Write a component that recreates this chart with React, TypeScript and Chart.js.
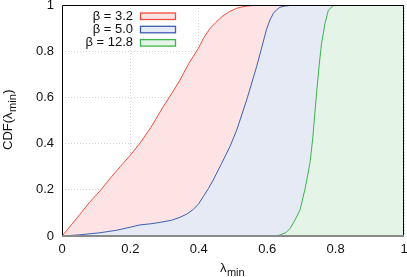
import { useEffect, useRef } from "react";
import { Chart, registerables } from "chart.js";
Chart.register(...registerables);

const seriesLabels = ["β = 3.2", "β = 5.0", "β = 12.8"];

const redX = [0, 0.02, 0.053, 0.08, 0.111, 0.14, 0.17, 0.2, 0.228, 0.26, 0.296, 0.32, 0.345, 0.37, 0.399, 0.415, 0.433, 0.45, 0.467, 0.49, 0.511, 0.53, 0.55, 0.575, 1];
const redY = [0, 0.035, 0.095, 0.145, 0.195, 0.248, 0.3, 0.35, 0.402, 0.47, 0.56, 0.615, 0.675, 0.745, 0.813, 0.86, 0.899, 0.925, 0.949, 0.972, 0.986, 0.993, 0.997, 1, 1];

const blueX = [0, 0.05, 0.111, 0.16, 0.199, 0.228, 0.26, 0.287, 0.32, 0.345, 0.365, 0.384, 0.4, 0.413, 0.428, 0.442, 0.467, 0.491, 0.511, 0.54, 0.569, 0.583, 0.598, 0.608, 0.618, 0.628, 0.637, 0.65, 0.667, 0.68, 1];
const blueY = [0, 0.005, 0.014, 0.025, 0.038, 0.048, 0.053, 0.059, 0.068, 0.081, 0.095, 0.115, 0.14, 0.17, 0.205, 0.242, 0.315, 0.387, 0.459, 0.589, 0.733, 0.81, 0.895, 0.935, 0.964, 0.98, 0.99, 0.995, 0.998, 1, 1];

const greenX = [0, 0.61, 0.625, 0.637, 0.655, 0.667, 0.68, 0.696, 0.711, 0.725, 0.733, 0.745, 0.752, 0.759, 0.769, 0.779, 0.793, 0.81, 1];
const greenY = [0, 0, 0.001, 0.004, 0.015, 0.033, 0.065, 0.113, 0.206, 0.315, 0.42, 0.63, 0.74, 0.834, 0.92, 0.978, 0.997, 1, 1];

const xTicks = [0, 0.2, 0.4, 0.6, 0.8, 1];
const yTicks = [0, 0.2, 0.4, 0.6, 0.8, 1];

const lineColors = ["#ef4f3d", "#3f5fb0", "#3cb44b"];
const fillColors = ["#fde3e3", "#e6eaf5", "#e4f5e8"];

const FONT = '"Liberation Sans", Arial, sans-serif';

function pts(xs: number[], ys: number[]) {
  return xs.map((x, i) => ({ x, y: ys[i] }));
}

const fmt = (v: number) => (v === 0 ? "0" : v === 1 ? "1" : v.toFixed(1));

const decor = {
  id: "decor",
  afterDraw(chart: any) {
    const { ctx, chartArea: a } = chart;
    ctx.save();
    // frame
    ctx.strokeStyle = "#000";
    ctx.lineWidth = 1;
    ctx.beginPath();
    ctx.moveTo(a.left + 0.5, a.bottom);
    ctx.lineTo(a.left + 0.5, a.top + 0.5);
    ctx.lineTo(a.right - 0.5, a.top + 0.5);
    ctx.lineTo(a.right - 0.5, a.bottom);
    ctx.stroke();
    ctx.strokeStyle = "#8a8a8a";
    ctx.lineWidth = 2;
    ctx.beginPath();
    ctx.moveTo(a.left, a.bottom);
    ctx.lineTo(a.right, a.bottom);
    ctx.stroke();

    // legend
    ctx.font = `13px ${FONT}`;
    ctx.fillStyle = "#111";
    ctx.textAlign = "right";
    ctx.textBaseline = "middle";
    seriesLabels.forEach((lab, i) => {
      const cy = 16 + 13.3 * i;
      ctx.fillStyle = "#111";
      ctx.fillText(lab, 133, cy);
      ctx.fillStyle = fillColors[i];
      ctx.fillRect(140.5, cy - 3, 35, 6.5);
      ctx.strokeStyle = lineColors[i];
      ctx.lineWidth = 1.3;
      ctx.strokeRect(140.5, cy - 3, 35, 6.5);
    });

    // x title
    ctx.textAlign = "left";
    ctx.textBaseline = "alphabetic";
    ctx.fillStyle = "#111";
    ctx.font = `13px ${FONT}`;
    const wL = ctx.measureText("λ").width;
    ctx.font = `11px ${FONT}`;
    const wM = ctx.measureText("min").width;
    const x0 = 232 - (wL + wM) / 2;
    ctx.font = `13px ${FONT}`;
    ctx.fillText("λ", x0, 272);
    ctx.font = `11px ${FONT}`;
    ctx.fillText("min", x0 + wL + 0.5, 276);

    // y title
    ctx.translate(12, 150);
    ctx.rotate(-Math.PI / 2);
    ctx.font = `13px ${FONT}`;
    ctx.fillText("CDF(λ", 0, 0);
    const w1 = ctx.measureText("CDF(λ").width;
    ctx.font = `11px ${FONT}`;
    ctx.fillText("min", w1 + 0.5, 3.5);
    const w2 = ctx.measureText("min").width;
    ctx.font = `13px ${FONT}`;
    ctx.fillText(")", w1 + w2 + 1, 0);
    ctx.restore();
  },
};

export default function App() {
  const ref = useRef<HTMLCanvasElement>(null);
  useEffect(() => {
    document.body.style.margin = "0";
    const order = [2, 1, 0];
    const data = [pts(redX, redY), pts(blueX, blueY), pts(greenX, greenY)];
    const chart = new Chart(ref.current!, {
      type: "line",
      data: {
        datasets: data.map((d, i) => ({
          label: seriesLabels[i],
          data: d,
          borderColor: lineColors[i],
          backgroundColor: fillColors[i],
          borderWidth: 1,
          pointRadius: 0,
          tension: 0,
          fill: "origin",
          order: order[i],
        })),
      },
      options: {
        animation: false,
        responsive: false,
        events: [],
        layout: { padding: { top: 5, right: 3, left: 0, bottom: 0 } },
        plugins: { legend: { display: false }, tooltip: { enabled: false } },
        scales: {
          x: {
            type: "linear",
            min: 0,
            max: 1,
            afterBuildTicks: (s: any) => {
              s.ticks = xTicks.map((v) => ({ value: v }));
            },
            afterFit: (s: any) => {
              s.height = 41;
              s.paddingLeft = 0;
              s.paddingRight = 0;
            },
            ticks: {
              callback: (v: any) => fmt(Number(v)),
              font: { family: FONT, size: 13 },
              color: "#111",
              padding: 6,
              maxRotation: 0,
            },
            grid: { color: "#d4d4d4", lineWidth: 1, drawTicks: false },
            border: { display: false, dash: [1, 2] },
          },
          y: {
            type: "linear",
            min: 0,
            max: 1,
            afterBuildTicks: (s: any) => {
              s.ticks = yTicks.map((v) => ({ value: v }));
            },
            afterFit: (s: any) => {
              s.width = 62;
              s.paddingTop = 0;
              s.paddingBottom = 0;
            },
            ticks: {
              callback: (v: any) => fmt(Number(v)),
              font: { family: FONT, size: 13 },
              color: "#111",
              padding: 8,
            },
            grid: { color: "#d4d4d4", lineWidth: 1, drawTicks: false },
            border: { display: false, dash: [1, 2] },
          },
        },
      },
      plugins: [decor],
    });
    return () => chart.destroy();
  }, []);
  return (
    <div style={{ width: 407, height: 277 }}>
      <canvas ref={ref} width={407} height={277} style={{ display: "block" }} />
    </div>
  );
}
